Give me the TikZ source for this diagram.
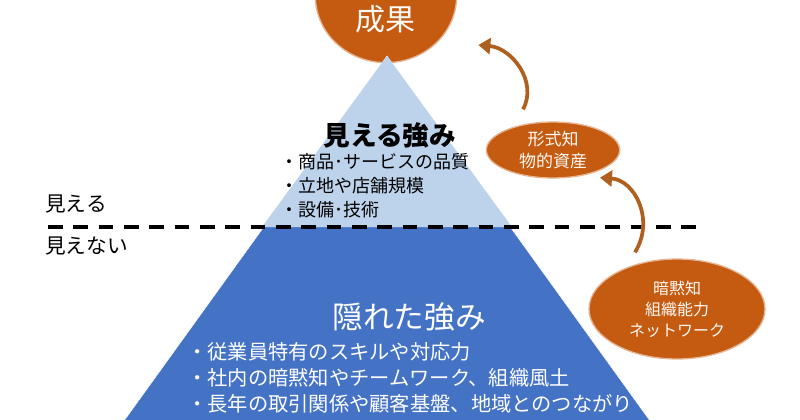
\documentclass[tikz,border=0pt]{standalone}
\usepackage{fontspec}
\usepackage{tikz}
\usepackage{xcolor}
\usetikzlibrary{positioning,shapes.geometric,arrows.meta}
\setmainfont{Noto Sans CJK JP}
\definecolor{result-orange}{HTML}{C55A11}
\definecolor{light-blue}{HTML}{BDD3EC}
\definecolor{deep-blue}{HTML}{4472C4}
\definecolor{arrow-brown}{HTML}{B0601E}
\tikzset{
    orange-oval/.style = {ellipse, fill=result-orange, draw=result-orange!45, line width=1pt, inner sep=0pt},
    oval-text/.style = {text=orange!4, align=center},
    flow-arrow/.style = {draw=arrow-brown, line width=2.8pt, -{Triangle[length=9pt,width=12pt]}},
    side-label/.style = {anchor=west, inner sep=0pt, font=\fontsize{15.5}{18}\selectfont},
    item-up/.style = {anchor=west, inner sep=0pt, font=\fontsize{13.5}{16}\selectfont},
    item-down/.style = {anchor=west, inner sep=0pt, text=white, font=\fontsize{15.2}{18}\selectfont},
}

\begin{document}
\begin{tikzpicture}[x=0.75pt, y=-0.75pt]
\useasboundingbox (0,0) rectangle (800,419);
% outcome on top
\node [orange-oval, minimum width=106pt, minimum height=100pt] (goal) at (386,-4) {};
\node [oval-text, font=\fontsize{22.5}{26}\selectfont] (goal-text) at (385,19) {成果};
% pyramid
\fill [deep-blue, draw=white, thin] (387,56) -- (121,425) -- (653,425) -- cycle;
\fill [light-blue] (387,56) -- (262,227) -- (512,227) -- cycle;
\draw [line width=2.6pt, dash pattern=on 11pt off 8pt] (48,227) -- (696,227);
\node [side-label] (seen) at (45,204) {見える};
\node [side-label] (unseen) at (45,246) {見えない};
% visible strengths
\node [font=\bfseries\fontsize{20}{24}\selectfont] (visible) at (390,135) {見える強み};
\node [item-up] (visible-1) at (280,162) {・商品･サービスの品質};
\node [item-up] (visible-2) at (280,186) {・立地や店舗規模};
\node [item-up] (visible-3) at (280,210) {・設備･技術};
% hidden strengths
\node [text=white, font=\fontsize{23}{27}\selectfont] (hidden) at (409,317) {隠れた強み};
\node [item-down] (hidden-1) at (187,352) {・従業員特有のスキルや対応力};
\node [item-down] (hidden-2) at (187,378) {・社内の暗黙知やチームワーク、組織風土};
\node [item-down] (hidden-3) at (187,404) {・長年の取引関係や顧客基盤、地域とのつながり};
% assets
\node [orange-oval, oval-text, minimum width=100pt, minimum height=42pt, font=\fontsize{12.75}{16.5}\selectfont] (formal) at (553,150) {形式知\\物的資産};
\node [orange-oval, oval-text, minimum width=132pt, minimum height=75pt, font=\fontsize{12}{15.75}\selectfont] (tacit) at (677,309) {暗黙知\\組織能力\\ネットワーク};
\draw [flow-arrow] ([shift={(-30,-12)}]formal.north) .. controls (538,82) and (512,48) .. ([shift={(21,49)}]goal.east);
\draw [flow-arrow] ([shift={(-42,-6)}]tacit.north) .. controls (655,220) and (635,180) .. ([shift={(47,-1)}]formal.south);
\end{tikzpicture}
\end{document}
